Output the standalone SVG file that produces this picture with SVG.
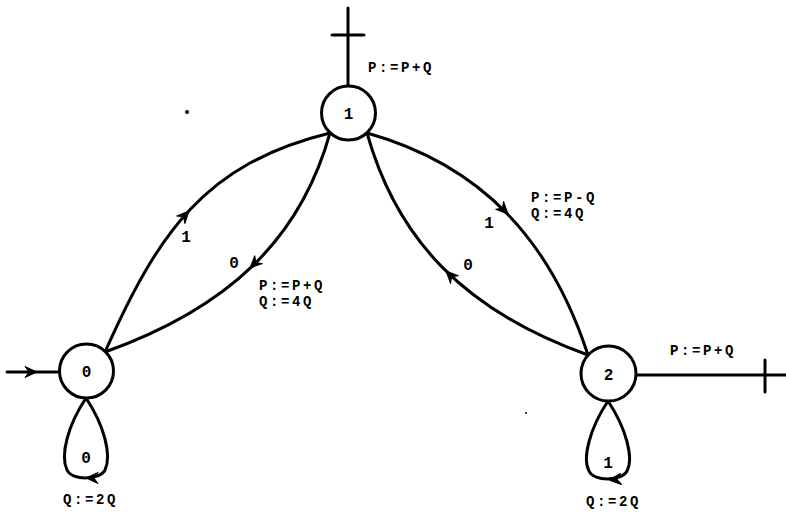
<svg xmlns="http://www.w3.org/2000/svg" xmlns:xlink="http://www.w3.org/1999/xlink" width="786" height="513" viewBox="0 0 786 513">
<style>
.ln{fill:none;stroke:#000;stroke-width:3;stroke-linecap:round;stroke-linejoin:round}
.nd{fill:#fff;stroke:#000;stroke-width:3}
.t{font-family:"Liberation Mono","DejaVu Sans Mono",monospace;font-size:14px;font-weight:bold;fill:#000;letter-spacing:2.6px}
.c{text-anchor:middle;letter-spacing:0;font-size:16px}
</style>
<defs>
<path id="ah" d="M0,0 L-12,-5.5 L-8,0 L-12,5.5 Z" fill="#000" stroke="#000" stroke-width="1" stroke-linejoin="round"/>
</defs>
<rect width="786" height="513" fill="#fff"/>
<g id="connectors">
<path class="ln" d="M348,86 L348,8"/>
<path class="ln" d="M332,35 L364,35"/>
<path class="ln" d="M636,375 L786,375"/>
<path class="ln" d="M765,360 L765,392"/>
<path class="ln" d="M7,372 L60,372"/>
<use xlink:href="#ah" transform="translate(37,372)"/>
<path class="ln" d="M105,352 C158,233 204,164 330,133"/>
<use xlink:href="#ah" transform="translate(189,211) rotate(-47)"/>
<path class="ln" d="M330,133 C300,240 228,308 105,352"/>
<use xlink:href="#ah" transform="translate(250,268) rotate(136)"/>
<path class="ln" d="M367,133 C482.6,165.3 550.7,241 588,355"/>
<use xlink:href="#ah" transform="translate(508,214) rotate(46)"/>
<path class="ln" d="M367,133 C397,240 465,311 588,355"/>
<use xlink:href="#ah" transform="translate(446,271) rotate(-134.6)"/>
<path class="ln" d="M86,398 C104,425 112,455 105,470 C100,480 72,481 67,470 C60,455 68,425 86,398"/>
<use xlink:href="#ah" transform="translate(86,478) rotate(180)"/>
<path class="ln" d="M608,401 C626,428 634,458 627,471 C622,481 594,482 589,471 C582,458 590,428 608,401"/>
<use xlink:href="#ah" transform="translate(609,480) rotate(175)"/>
</g>
<g id="node1">
<circle class="nd" cx="348.5" cy="113" r="27"/>
<text class="t c" x="348.5" y="119">1</text>
</g>
<g id="node0">
<circle class="nd" cx="86.5" cy="371" r="27"/>
<text class="t c" x="86.5" y="377">0</text>
</g>
<g id="node2">
<circle class="nd" cx="608.5" cy="373.5" r="27.5"/>
<text class="t c" x="608.5" y="380">2</text>
</g>
<g id="labels">
<text class="t" x="368" y="72">P:=P+Q</text>
<text class="t c" x="186" y="242">1</text>
<text class="t c" x="234" y="268">0</text>
<text class="t" x="259" y="290">P:=P+Q</text>
<text class="t" x="259" y="306">Q:=4Q</text>
<text class="t c" x="489" y="228">1</text>
<text class="t c" x="468" y="270">0</text>
<text class="t" x="531" y="202">P:=P-Q</text>
<text class="t" x="531" y="218">Q:=4Q</text>
<text class="t" x="670" y="355">P:=P+Q</text>
<text class="t c" x="86" y="463">0</text>
<text class="t" x="63" y="504">Q:=2Q</text>
<text class="t c" x="608" y="468">1</text>
<text class="t" x="586" y="506">Q:=2Q</text>
</g>
<circle cx="187" cy="112" r="2" fill="#000"/>
<circle cx="526" cy="413" r="1" fill="#000"/>
</svg>
